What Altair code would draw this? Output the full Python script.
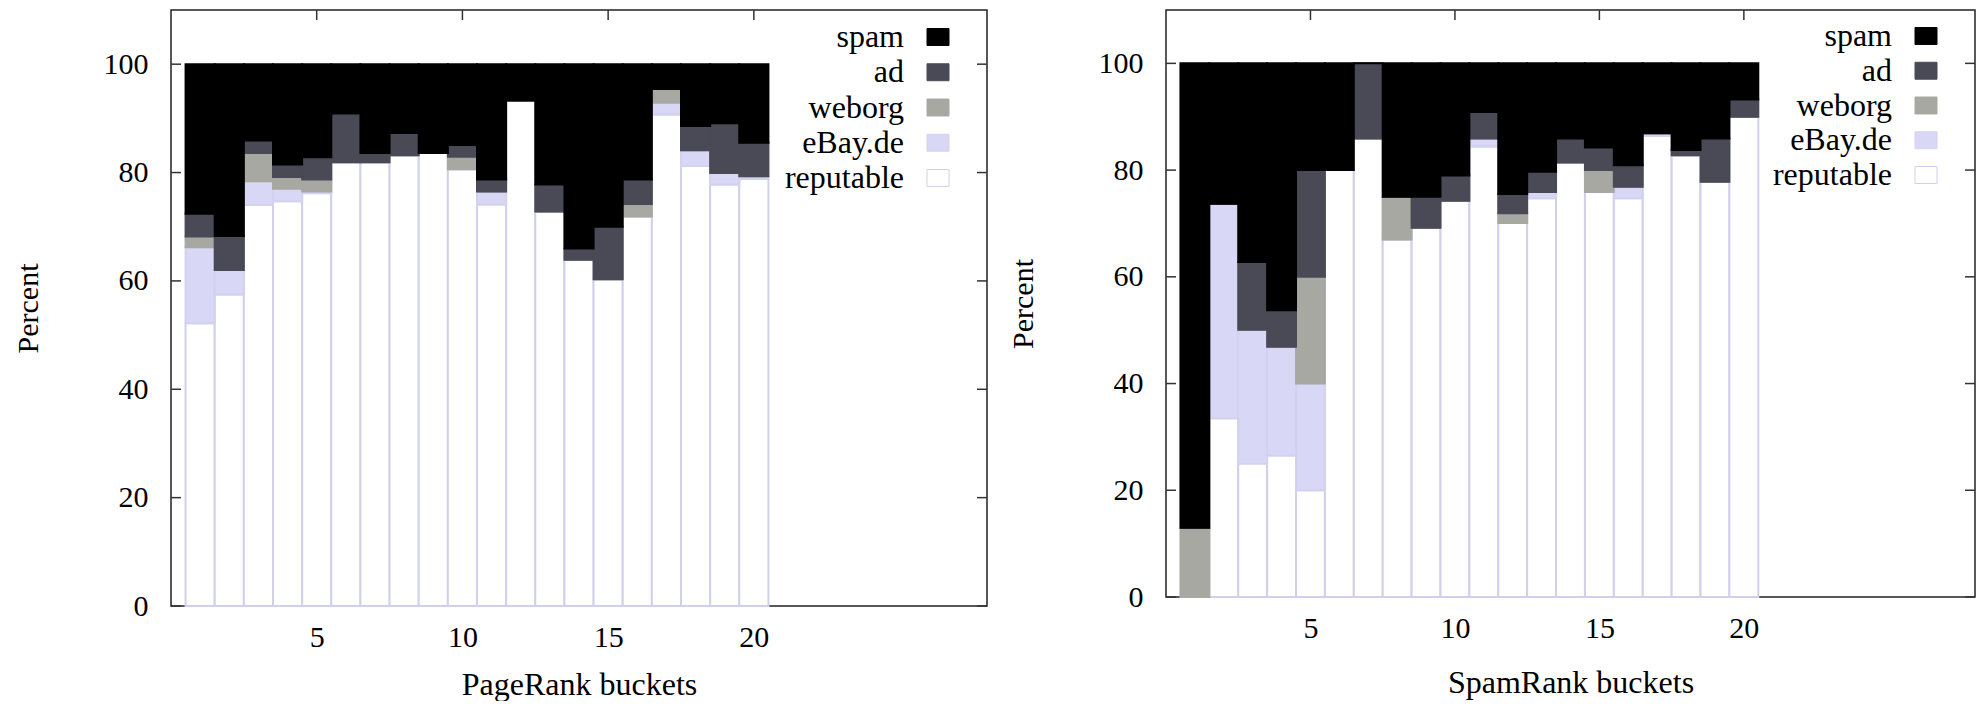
import altair as alt
import pandas as pd

# ---------------- data ----------------
buckets = list(range(1, 21))

# PageRank buckets (percent per bucket, bottom -> top: reputable, eBay.de, weborg, ad, spam)
pr_reputable = [52.2, 57.5, 74.0, 74.7, 76.2, 81.9, 81.9, 83.2, 83.6, 80.6,
                74.1, 93.3, 72.8, 63.9, 60.3, 71.9, 90.7, 81.2, 77.8, 78.8]
pr_ebay      = [14.0, 4.5, 4.4, 2.3, 0.3, 0.0, 0.0, 0.0, 0.0, 0.0,
                2.4, 0.0, 0.0, 0.0, 0.0, 0.0, 2.2, 2.9, 2.1, 0.5]
pr_weborg    = [2.0, 0.0, 5.2, 2.2, 2.2, 0.0, 0.0, 0.0, 0.0, 2.3,
                0.0, 0.0, 0.0, 0.0, 0.0, 2.3, 2.5, 0.0, 0.0, 0.0]
pr_ad        = [4.2, 6.3, 2.3, 2.3, 4.1, 9.0, 1.7, 4.1, 0.0, 2.2,
                2.2, 0.0, 5.0, 2.1, 9.7, 4.5, 0.0, 4.5, 9.2, 6.2]
pr_spam      = [27.6, 31.7, 14.1, 18.5, 17.2, 9.1, 16.4, 12.7, 16.4, 14.9,
                21.3, 6.7, 22.2, 34.0, 30.0, 21.3, 4.6, 11.4, 10.9, 14.5]

# SpamRank buckets
sr_reputable = [0.0, 33.5, 25.0, 26.5, 20.0, 80.0, 85.9, 67.0, 69.2, 74.25,
                84.4, 70.1, 74.7, 81.4, 75.9, 74.7, 86.4, 82.8, 77.8, 90.0]
sr_ebay      = [0.0, 40.2, 25.1, 20.4, 20.0, 0.0, 0.0, 0.0, 0.0, 0.0,
                1.5, 0.0, 1.2, 0.0, 0.0, 2.2, 0.5, 0.0, 0.0, 0.0]
sr_weborg    = [13.0, 0.0, 0.0, 0.0, 20.0, 0.0, 0.0, 8.0, 0.0, 0.0,
                0.0, 1.8, 0.0, 0.0, 4.1, 0.0, 0.0, 0.0, 0.0, 0.0]
sr_ad        = [0.0, 0.0, 12.7, 6.85, 20.0, 0.0, 14.1, 0.0, 5.8, 4.75,
                5.0, 3.6, 3.8, 4.5, 4.25, 4.0, 0.0, 0.95, 8.1, 3.25]
sr_spam      = [87.0, 26.3, 37.2, 46.25, 20.0, 20.0, 0.0, 25.0, 25.0, 21.0,
                9.1, 24.5, 20.3, 14.1, 15.75, 19.1, 13.1, 16.25, 14.1, 6.75]

stack_order = ["reputable", "eBay.de", "weborg", "ad", "spam"]     # bottom -> top
legend_order = ["spam", "ad", "weborg", "eBay.de", "reputable"]    # legend rows
fill_colors = ["#000000", "#4a4a56", "#a8a8a2", "#d8d8f6", "#ffffff"]
stroke_colors = ["#000000", "#4a4a56", "#a8a8a2", "#d2d2f0", "#d0d0ea"]

y_ticks = [0, 20, 40, 60, 80, 100]
x_ticks = [5, 10, 15, 20]

FONT = "Liberation Serif"


def long_df(series_lists):
    rows = []
    for k, name in enumerate(stack_order):
        for b, v in zip(buckets, series_lists[k]):
            rows.append({"bucket": b, "series": name, "order": k, "value": v})
    return pd.DataFrame(rows)


pr_df = long_df([pr_reputable, pr_ebay, pr_weborg, pr_ad, pr_spam])
sr_df = long_df([sr_reputable, sr_ebay, sr_weborg, sr_ad, sr_spam])


def panel(df, xtitle, W, H, x_title_pad, legend_range):
    xs = alt.Scale(domain=[0, 28], nice=False, zero=False)
    ys = alt.Scale(domain=[0, 110], nice=False)
    fill = alt.Fill("series:N", scale=alt.Scale(domain=legend_order, range=fill_colors), legend=None)
    stroke = alt.Stroke("series:N", scale=alt.Scale(domain=legend_order, range=stroke_colors), legend=None)

    ytick_df = pd.DataFrame({"t": y_ticks})
    xtick_df = pd.DataFrame({"t": x_ticks})
    tick_style = dict(color="#333333", strokeWidth=1.5)

    lt = alt.Chart(ytick_df).mark_rule(**tick_style).encode(
        y=alt.Y("t:Q", scale=ys, axis=None), x=alt.value(0), x2=alt.value(10))
    rt = alt.Chart(ytick_df).mark_rule(**tick_style).encode(
        y=alt.Y("t:Q", scale=ys, axis=None), x=alt.value(W - 10), x2=alt.value(W))
    tt = alt.Chart(xtick_df).mark_rule(**tick_style).encode(
        x=alt.X("t:Q", scale=xs, axis=None), y=alt.value(0), y2=alt.value(10))
    bt = alt.Chart(xtick_df).mark_rule(**tick_style).encode(
        x=alt.X("t:Q", scale=xs, axis=None), y=alt.value(H - 10), y2=alt.value(H))

    bars = alt.Chart(df).transform_stack(
        stack="value", groupby=["bucket"], as_=["y0", "y1"],
        sort=[alt.SortField("order", order="ascending")]
    ).transform_calculate(
        x0="datum.bucket - 0.5", x1="datum.bucket + 0.5"
    ).mark_rect(strokeWidth=2).encode(
        x=alt.X("x0:Q", scale=xs,
                axis=alt.Axis(values=x_ticks, title=xtitle, labelPadding=16,
                              titlePadding=x_title_pad, titleFontSize=32, format="d")),
        x2="x1:Q",
        y=alt.Y("y0:Q", scale=ys,
                axis=alt.Axis(values=y_ticks, title="Percent", labelPadding=23,
                              titlePadding=60, format="d")),
        y2="y1:Q",
        fill=fill,
        stroke=stroke,
    )

    leg_df = pd.DataFrame({"series": legend_order})
    ly = alt.Y("series:N", sort=legend_order,
               scale=alt.Scale(type="point", domain=legend_order, range=legend_range, padding=0),
               axis=None)
    leg_text = alt.Chart(leg_df).mark_text(
        align="right", baseline="middle", font=FONT, fontSize=32, color="black"
    ).encode(text="series:N", y=ly, x=alt.value(W - 83))
    leg_box = alt.Chart(leg_df).mark_point(
        shape="M-1,-0.77L1,-0.77L1,0.77L-1,0.77Z", filled=True, size=484,
        opacity=1, strokeWidth=1
    ).encode(y=ly, x=alt.value(W - 49), fill=fill, stroke=stroke)

    return alt.layer(lt, rt, tt, bt, bars, leg_text, leg_box).resolve_scale(
        x="independent", y="independent"
    ).resolve_axis(
        x="independent", y="independent"
    ).properties(width=W, height=H)


left = panel(pr_df, "PageRank buckets", 816, 596, 17, [27, 168])
right = panel(sr_df, "SpamRank buckets", 809, 587, 24, [26, 165])

chart = alt.hconcat(left, right, spacing=18).properties(
    padding={"left": 12, "top": 8, "right": 8, "bottom": 0},
    background="white",
).configure_view(
    stroke="#222222", strokeWidth=1.5
).configure_axis(
    labelFont=FONT, titleFont=FONT, labelFontSize=30, titleFontSize=30,
    titleFontWeight="normal", labelColor="black", titleColor="black",
    domain=False, ticks=False, grid=False
)

chart.save("out.html", embed_options={"renderer": "svg", "actions": False})
